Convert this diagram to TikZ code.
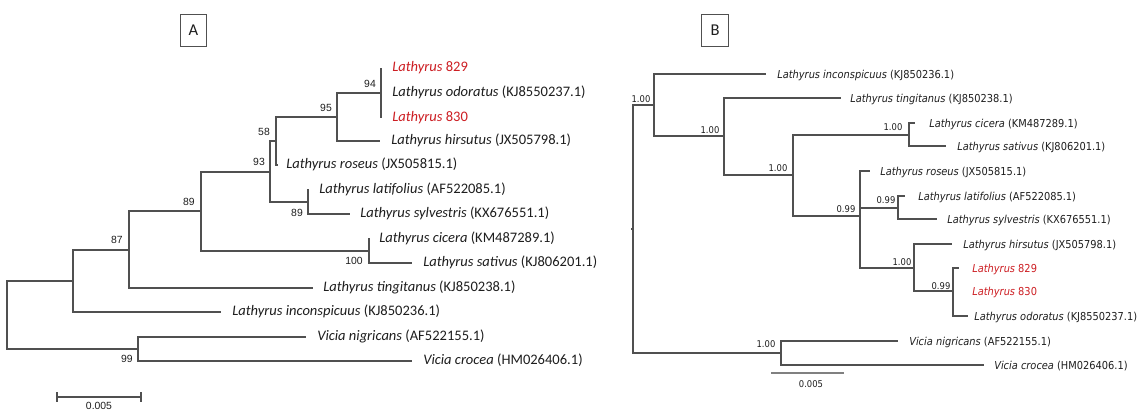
\documentclass[tikz,border=0pt]{standalone}
\usepackage{fontspec}
\setmainfont{Carlito}
\newfontfamily\numfont{Liberation Sans}
\newfontfamily\bfont[FakeStretch=0.9]{DejaVu Sans}
\definecolor{linec}{RGB}{80,80,80}
\definecolor{redl}{RGB}{205,30,35}
\definecolor{txtc}{RGB}{30,30,30}
\tikzset{
  br/.style={draw=linec, line width=0.9pt},
  leafA/.style={anchor=base west, inner sep=0pt, text=txtc, font=\fontsize{10.9pt}{12pt}\selectfont},
  supA/.style={inner sep=0pt, text=txtc, font=\numfont\fontsize{7.8pt}{9pt}\selectfont},
  leafB/.style={anchor=base west, inner sep=0pt, text=txtc, font=\bfont\fontsize{8.2pt}{10pt}\selectfont},
  supB/.style={inner sep=0pt, text=txtc, font=\bfont\fontsize{7pt}{8pt}\selectfont},
  redtxt/.style={text=redl},
  panelbox/.style={draw=linec, line width=0.6pt, minimum width=20pt, minimum height=24pt, inner sep=0pt, text=txtc, font=\fontsize{12.4pt}{14pt}\selectfont}
}
\begin{document}
\begin{tikzpicture}[x=0.75pt,y=-0.75pt]
\useasboundingbox (0,0) rectangle (1140,410);
\fill[white] (0,0) rectangle (1140,410);

% ---------------- Panel A ----------------
\node[panelbox] (boxA) at (193.5,30) {A};

\coordinate (rA) at (7,315);
\coordinate (nL) at (73,281);
\coordinate (n87) at (129,250);
\coordinate (n89o) at (201,211);
\coordinate (n93) at (270,172);
\coordinate (n58) at (276,141);
\coordinate (n95) at (337,117);
\coordinate (n94) at (381,93);
\coordinate (n89i) at (308,202);
\coordinate (n100) at (369,251);
\coordinate (nV) at (138,349);

\coordinate (tA829) at (381,68);
\coordinate (tA830) at (381,118);
\coordinate (tAhir) at (380,141);
\coordinate (tAros) at (278,165);
\coordinate (tAlat) at (309,190);
\coordinate (tAsyl) at (350,214);
\coordinate (tAcic) at (370,239);
\coordinate (tAsat) at (412,263);
\coordinate (tAtin) at (313,288);
\coordinate (tAinc) at (221,312);
\coordinate (tAnig) at (306,337);
\coordinate (tAcro) at (412,361);

\draw[br] (rA) |- (nL);
\draw[br] (rA) |- (nV);
\draw[br] (nL) |- (n87);
\draw[br] (nL) |- (tAinc);
\draw[br] (n87) |- (n89o);
\draw[br] (n87) |- (tAtin);
\draw[br] (n89o) |- (n93);
\draw[br] (n89o) |- (n100);
\draw[br] (n93) |- (n58);
\draw[br] (n93) |- (n89i);
\draw[br] (n58) |- (n95);
\draw[br] (n58) |- (tAros);
\draw[br] (n95) |- (n94);
\draw[br] (n95) |- (tAhir);
\draw[br] (n94) |- (tA829);
\draw[br] (n94) |- (tA830);
\draw[br] (n89i) |- (tAlat);
\draw[br] (n89i) |- (tAsyl);
\draw[br] (n100) |- (tAcic);
\draw[br] (n100) |- (tAsat);
\draw[br] (nV) |- (tAnig);
\draw[br] (nV) |- (tAcro);

\node[leafA, redtxt] (lA829) at (392,71.5) {\textit{Lathyrus} 829};
\node[leafA] (lAodo) at (392,96.5) {\textit{Lathyrus odoratus} (KJ8550237.1)};
\node[leafA, redtxt] (lA830) at (392,121.5) {\textit{Lathyrus} 830};
\node[leafA] (lAhir) at (391,144.5) {\textit{Lathyrus hirsutus} (JX505798.1)};
\node[leafA] (lAros) at (286,168.5) {\textit{Lathyrus roseus} (JX505815.1)};
\node[leafA] (lAlat) at (319,193.5) {\textit{Lathyrus latifolius} (AF522085.1)};
\node[leafA] (lAsyl) at (360,217.5) {\textit{Lathyrus sylvestris} (KX676551.1)};
\node[leafA] (lAcic) at (379,242.5) {\textit{Lathyrus cicera} (KM487289.1)};
\node[leafA] (lAsat) at (423,266.5) {\textit{Lathyrus sativus} (KJ806201.1)};
\node[leafA] (lAtin) at (323,291.5) {\textit{Lathyrus tingitanus} (KJ850238.1)};
\node[leafA] (lAinc) at (232,315.5) {\textit{Lathyrus inconspicuus} (KJ850236.1)};
\node[leafA] (lAnig) at (317,340.5) {\textit{Vicia nigricans} (AF522155.1)};
\node[leafA] (lAcro) at (423,364.5) {\textit{Vicia crocea} (HM026406.1)};

\node[supA] (sA94) at (370,84) {94};
\node[supA] (sA95) at (326,108) {95};
\node[supA] (sA58) at (264,132) {58};
\node[supA] (sA93) at (259,162) {93};
\node[supA] (sA89i) at (297,213) {89};
\node[supA] (sA89o) at (189,202) {89};
\node[supA] (sA100) at (354,261) {100};
\node[supA] (sA87) at (117,240) {87};
\node[supA] (sA99) at (127,359) {99};

\coordinate (scA1) at (57,397);
\coordinate (scA2) at (141,397);
\draw[br, line width=0.8pt] (scA1) -- (scA2);
\draw[br, line width=0.8pt] ([yshift=3.4pt]scA1) -- ([yshift=-3.4pt]scA1);
\draw[br, line width=0.8pt] ([yshift=3.4pt]scA2) -- ([yshift=-3.4pt]scA2);
\node[supA, anchor=north] (scAl) at (99,401.5) {0.005};

% ---------------- Panel B ----------------
\node[panelbox] (boxB) at (715,30) {B};

\coordinate (rB) at (633,229);
\coordinate (nBL) at (654,105);
\coordinate (nB2) at (724,136);
\coordinate (nB3) at (793,175);
\coordinate (nBcs) at (909,135);
\coordinate (nB4) at (860,216);
\coordinate (nBls) at (898,208);
\coordinate (nB5) at (914,268);
\coordinate (nB6) at (953,291);
\coordinate (nBV) at (781,353);

\coordinate (tBinc) at (766,74);
\coordinate (tBtin) at (841,98);
\coordinate (tBcic) at (915,123);
\coordinate (tBsat) at (946,146);
\coordinate (tBros) at (870,171);
\coordinate (tBlat) at (905,196);
\coordinate (tBsyl) at (937,219);
\coordinate (tBhir) at (952,244);
\coordinate (tB829) at (959,268);
\coordinate (tBodo) at (968,316);
\coordinate (tBnig) at (898,341);
\coordinate (tBcro) at (984,365);

\draw[br] (rB) |- (nBL);
\draw[br] (rB) |- (nBV);
\draw[br] (rB) -- ++(-2.5,0);
\draw[br] (nBL) |- (tBinc);
\draw[br] (nBL) |- (nB2);
\draw[br] (nB2) |- (tBtin);
\draw[br] (nB2) |- (nB3);
\draw[br] (nB3) |- (nBcs);
\draw[br] (nB3) |- (nB4);
\draw[br] (nBcs) |- (tBcic);
\draw[br] (nBcs) |- (tBsat);
\draw[br] (nB4) |- (tBros);
\draw[br] (nB4) |- (nBls);
\draw[br] (nB4) |- (nB5);
\draw[br] (nBls) |- (tBlat);
\draw[br] (nBls) |- (tBsyl);
\draw[br] (nB5) |- (tBhir);
\draw[br] (nB5) |- (nB6);
\draw[br] (nB6) |- (tB829);
\draw[br] (nB6) |- (tBodo);
\draw[br] (nBV) |- (tBnig);
\draw[br] (nBV) |- (tBcro);

\node[leafB] (lBinc) at (777,78.3) {\textit{Lathyrus inconspicuus} (KJ850236.1)};
\node[leafB] (lBtin) at (850,102.3) {\textit{Lathyrus tingitanus} (KJ850238.1)};
\node[leafB] (lBcic) at (929,127.3) {\textit{Lathyrus cicera} (KM487289.1)};
\node[leafB] (lBsat) at (957,150.3) {\textit{Lathyrus sativus} (KJ806201.1)};
\node[leafB] (lBros) at (880,175.3) {\textit{Lathyrus roseus} (JX505815.1)};
\node[leafB] (lBlat) at (918,200.3) {\textit{Lathyrus latifolius} (AF522085.1)};
\node[leafB] (lBsyl) at (947,223.3) {\textit{Lathyrus sylvestris} (KX676551.1)};
\node[leafB] (lBhir) at (963,248.3) {\textit{Lathyrus hirsutus} (JX505798.1)};
\node[leafB, redtxt] (lB829) at (972,272.3) {\textit{Lathyrus} 829};
\node[leafB, redtxt] (lB830) at (972,295.3) {\textit{Lathyrus} 830};
\node[leafB] (lBodo) at (974,320.3) {\textit{Lathyrus odoratus} (KJ8550237.1)};
\node[leafB] (lBnig) at (909,345.3) {\textit{Vicia nigricans} (AF522155.1)};
\node[leafB] (lBcro) at (994,369.3) {\textit{Vicia crocea} (HM026406.1)};

\node[supB] (sBr) at (641,99) {1.00};
\node[supB] (sB2) at (710,130) {1.00};
\node[supB] (sB3) at (778,168) {1.00};
\node[supB] (sBcs) at (893,127) {1.00};
\node[supB] (sB4) at (846,209) {0.99};
\node[supB] (sBls) at (886,200) {0.99};
\node[supB] (sB5) at (902,262) {1.00};
\node[supB] (sB6) at (941,286) {0.99};
\node[supB] (sBV) at (766,344) {1.00};

\coordinate (scB1) at (771,373);
\coordinate (scB2) at (844,373);
\draw[br, draw=gray, line width=0.8pt] (scB1) -- (scB2);
\node[supB] (scBl) at (811,384) {0.005};
\end{tikzpicture}
\end{document}
